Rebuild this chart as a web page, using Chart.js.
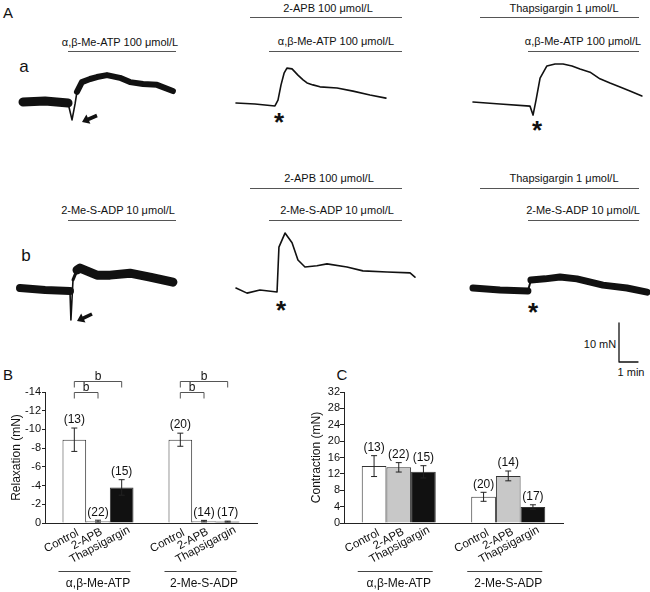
<!DOCTYPE html>
<html lang="en">
<head>
<meta charset="UTF-8">
<title>Relaxation and contraction traces</title>
<style>
  body { margin: 0; background: #fff; font-family: 'Liberation Sans', Arial, sans-serif; color: #111; }
  #fig { position: relative; width: 650px; height: 592px; overflow: hidden; background: #fff; }
  #fig canvas { position: absolute; }
  .lbl { position: absolute; white-space: nowrap; line-height: 1; transform: translate(-50%, -50%); }
  .drug { position: absolute; height: 0; border-top: 1.5px solid #555; }
  .star { position: absolute; font-size: 26px; font-weight: bold; line-height: 1; transform: translate(-50%, -8px); }
  #marks { position: absolute; left: 0; top: 0; }
</style>
</head>
<body>
<div id="fig">
  <svg id="marks" width="650" height="592"></svg>
</div>

<script src="https://cdn.jsdelivr.net/npm/chart.js"></script>
<script>
// ---- traces (time in min, force in mN, relative to the pre-drug baseline)
const a1Time  = [0, 1.16, 2.37, 2.58, 2.74, 2.84, 3.1, 3.53, 3.89, 4.42, 5.1, 5.63, 6.32, 7.05, 7.89];
const a1Force = [0, 0.26, -0.26, -4.6, -0.5, 2.6, 5.1, 5.9, 6.4, 6.9, 6.2, 5.1, 4.6, 4.4, 2.8];

const a2Time  = [0, 1.0, 2.05, 2.21, 2.37, 2.53, 2.68, 2.95, 3.26, 3.53, 3.74, 4.05, 4.42, 5.32, 6.16, 7.05, 7.89];
const a2Force = [0.26, 0, -0.5, 1.0, 4.9, 7.9, 9.2, 9.0, 7.4, 6.2, 5.4, 4.9, 4.4, 4.1, 3.3, 2.3, 1.5];

const a3Time  = [0, 1.42, 3.0, 3.16, 3.32, 3.53, 3.89, 4.32, 4.74, 5.21, 5.63, 6.16, 6.68, 7.21, 7.74, 8.26, 8.89];
const a3Force = [0.26, -0.26, -0.8, -3.1, 0.8, 6.4, 9.5, 10.0, 10.0, 9.5, 8.7, 7.9, 6.2, 5.1, 4.1, 3.1, 1.8];

const b1Time  = [0, 1.32, 2.63, 2.68, 2.79, 3.0, 3.16, 4.05, 4.74, 5.79, 6.84, 8.05];
const b1Force = [0, -0.5, -0.8, -8.2, 2.1, 4.6, 5.1, 3.3, 3.3, 3.8, 2.8, 1.5];

const b2Time  = [0, 0.58, 1.26, 2.16, 2.26, 2.58, 2.95, 3.26, 3.63, 4.26, 4.79, 5.84, 6.68, 7.95, 9.16, 9.42];
const b2Force = [0.5, -0.8, 0, -0.5, 11.0, 14.6, 12.1, 7.7, 5.9, 6.2, 6.7, 5.9, 4.9, 4.6, 4.4, 3.3];

const b3Time  = [0, 1.42, 2.89, 3.05, 3.79, 4.58, 5.47, 6.84, 8.1, 9.16];
const b3Force = [0.26, -0.26, -0.5, 2.3, 2.6, 3.1, 2.6, 1.0, 0.26, -0.8];

const scaleTime  = [0, 0, 1];   // 1 min
const scaleForce = [10, 0, 0];  // 10 mN

// ---- bar charts
const groups = ['α,β-Me-ATP', '2-Me-S-ADP'];
const treatments = ['Control', '2-APB', 'Thapsigargin'];

const relaxControl = [-8.9, -8.9];
const relaxApb     = [-0.2, -0.2];
const relaxThaps   = [-3.8, -0.15];
const relaxControlSem = [1.25, 0.7];
const relaxApbSem     = [0.1, 0.08];
const relaxThapsSem   = [0.83, 0.05];

const contrControl = [13.9, 6.4];
const contrApb     = [13.6, 11.5];
const contrThaps   = [12.5, 3.9];
const contrControlSem = [2.55, 1.1];
const contrApbSem     = [1.15, 1.2];
const contrThapsSem   = [1.5, 0.55];

const nControl = [13, 20];
const nApb     = [22, 14];
const nThaps   = [15, 17];

const FONT = "'Liberation Sans', Arial, sans-serif";
Chart.defaults.font.family = FONT;
Chart.defaults.color = '#111';

const PX_PER_MIN = 19;
const PX_PER_MN = 3.9;
const fig = document.getElementById('fig');

function addCanvas(left, top, w, h) {
  const c = document.createElement('canvas');
  c.width = w; c.height = h;
  c.style.left = left + 'px';
  c.style.top = top + 'px';
  fig.appendChild(c);
  return c;
}

function label(text, cx, cy, size, cls) {
  const d = document.createElement('div');
  d.className = cls || 'lbl';
  d.textContent = text;
  d.style.left = cx + 'px';
  d.style.top = cy + 'px';
  if (size) d.style.fontSize = size + 'px';
  fig.appendChild(d);
}

function drugLine(x1, x2, y) {
  const d = document.createElement('div');
  d.className = 'drug';
  d.style.left = x1 + 'px';
  d.style.top = y + 'px';
  d.style.width = (x2 - x1) + 'px';
  fig.appendChild(d);
}

// width: one number, or one width per segment
function drawTrace(times, forces, p, width) {
  const c = addCanvas(p.left, p.top, p.w, p.h);
  const base = Array.isArray(width) ? width[width.length - 1] : width;
  new Chart(c, {
    type: 'line',
    data: {
      datasets: [{
        data: times.map((t, i) => ({ x: t, y: forces[i] })),
        borderColor: '#111',
        borderWidth: base,
        borderJoinStyle: 'round',
        borderCapStyle: 'round',
        pointRadius: 0,
        tension: 0,
        clip: false,
        segment: {
          borderWidth: ctx => Array.isArray(width) ? width[Math.min(ctx.p0DataIndex, width.length - 1)] : undefined
        }
      }]
    },
    options: {
      responsive: false,
      animation: false,
      events: [],
      layout: { padding: 0 },
      plugins: { legend: { display: false }, tooltip: { enabled: false } },
      scales: {
        x: { type: 'linear', display: false,
             min: (p.left - p.x0) / PX_PER_MIN, max: (p.left + p.w - p.x0) / PX_PER_MIN },
        y: { type: 'linear', display: false,
             min: (p.y0 - p.top - p.h) / PX_PER_MN, max: (p.y0 - p.top) / PX_PER_MN }
      }
    }
  });
}

// panel A
label('A', 8, 12, 15);
label('a', 24, 66, 17);
label('b', 26, 255, 17);

label('α,β-Me-ATP 100 μmol/L', 120, 42, 11);  drugLine(68, 176, 51);
label('2-APB 100 μmol/L', 328, 8, 11);        drugLine(250, 402, 17);
label('α,β-Me-ATP 100 μmol/L', 336, 41, 11);  drugLine(269, 402, 51);
label('Thapsigargin 1 μmol/L', 564, 8, 11);   drugLine(480, 639, 17);
label('α,β-Me-ATP 100 μmol/L', 583, 41, 11);  drugLine(528, 639, 51);

label('2-Me-S-ADP 10 μmol/L', 118, 210, 11);  drugLine(68, 176, 220);
label('2-APB 100 μmol/L', 329, 178, 11);      drugLine(250, 402, 188);
label('2-Me-S-ADP 10 μmol/L', 337, 210, 11);  drugLine(269, 402, 220);
label('Thapsigargin 1 μmol/L', 564, 178, 11); drugLine(480, 639, 188);
label('2-Me-S-ADP 10 μmol/L', 583, 210, 11);  drugLine(528, 639, 220);

label('*', 279, 117, null, 'star');
label('*', 537, 125, null, 'star');
label('*', 281, 305, null, 'star');
label('*', 533, 307, null, 'star');

label('10 mN', 600, 344, 11);
label('1 min', 631, 372, 11);

drawTrace(a1Time, a1Force, { left: 12, top: 58, w: 172, h: 72, x0: 23, y0: 102 }, [9, 9, 1.6, 1.6, 1.6, 6]);
drawTrace(a2Time, a2Force, { left: 230, top: 58, w: 175, h: 58, x0: 236, y0: 104 }, 1.6);
drawTrace(a3Time, a3Force, { left: 466, top: 55, w: 182, h: 62, x0: 473, y0: 103 }, 1.6);
drawTrace(b1Time, b1Force, { left: 12, top: 258, w: 172, h: 70, x0: 20, y0: 288 }, [8, 8, 1.6, 1.6, 3, 9]);
drawTrace(b2Time, b2Force, { left: 230, top: 225, w: 190, h: 75, x0: 236, y0: 290 }, 1.6);
drawTrace(b3Time, b3Force, { left: 466, top: 265, w: 184, h: 40, x0: 473, y0: 289 }, [7, 7, 2, 7]);
drawTrace(scaleTime, scaleForce, { left: 612, top: 318, w: 32, h: 50, x0: 619, y0: 362 }, 1.3);

// arrows pointing at the transient relaxation
function arrow(tx, ty, hx, hy) {
  const dx = hx - tx, dy = hy - ty, L = Math.hypot(dx, dy);
  const ux = dx / L, uy = dy / L, nx = -uy, ny = ux;
  const hl = 7, hw = 5, sw = 1.8;
  const bx = hx - ux * hl, by = hy - uy * hl;
  const pts = [[tx + nx * sw, ty + ny * sw], [bx + nx * sw, by + ny * sw], [bx + nx * hw, by + ny * hw],
               [hx, hy], [bx - nx * hw, by - ny * hw], [bx - nx * sw, by - ny * sw], [tx - nx * sw, ty - ny * sw]];
  const poly = document.createElementNS('http://www.w3.org/2000/svg', 'polygon');
  poly.setAttribute('points', pts.map(p => p[0].toFixed(1) + ',' + p[1].toFixed(1)).join(' '));
  poly.setAttribute('fill', '#111');
  document.getElementById('marks').appendChild(poly);
}
arrow(97, 115.5, 82, 122);
arrow(92, 314, 77, 321);

// ---- bar chart extras: error bars, n, rotated labels, group lines, brackets
const barExtras = {
  id: 'barExtras',
  afterDatasetsDraw(chart, args, opts) {
    const { ctx, chartArea } = chart;
    const y = chart.scales.y;
    ctx.save();
    ctx.strokeStyle = '#222';
    ctx.fillStyle = '#111';
    ctx.lineWidth = 1;
    chart.data.datasets.forEach((ds, i) => {
      const meta = chart.getDatasetMeta(i);
      meta.data.forEach((bar, j) => {
        const v = ds.data[j], e = opts.errors[i][j];
        const p1 = y.getPixelForValue(v - e), p2 = y.getPixelForValue(v + e);
        const top = Math.min(p1, p2), bot = Math.max(p1, p2);
        ctx.strokeStyle = '#222';
        ctx.beginPath();
        ctx.moveTo(bar.x, top); ctx.lineTo(bar.x, bot);
        ctx.moveTo(bar.x - 3, top); ctx.lineTo(bar.x + 3, top);
        ctx.moveTo(bar.x - 3, bot); ctx.lineTo(bar.x + 3, bot);
        ctx.stroke();

        ctx.font = '12px ' + FONT;
        ctx.textAlign = 'center';
        ctx.textBaseline = 'bottom';
        ctx.fillText('(' + opts.counts[i][j] + ')', bar.x, top - 2);

        ctx.save();
        ctx.font = '11.5px ' + FONT;
        ctx.translate(bar.x + opts.labelDx[i], chartArea.bottom + opts.labelDy[i]);
        ctx.rotate(-28 * Math.PI / 180);
        ctx.textAlign = 'right';
        ctx.textBaseline = 'alphabetic';
        ctx.fillText(ds.label, 0, 0);
        ctx.restore();
      });
    });

    // group underlines
    const first = chart.getDatasetMeta(0).data, last = chart.getDatasetMeta(2).data;
    ctx.strokeStyle = '#444';
    ctx.beginPath();
    first.forEach((bar, j) => {
      const x1 = bar.x - bar.width / 2 - 4, x2 = last[j].x + last[j].width / 2 - 3;
      ctx.moveTo(x1, chartArea.bottom + 48.5);
      ctx.lineTo(x2, chartArea.bottom + 48.5);
    });
    ctx.stroke();

    // significance brackets
    if (opts.brackets) {
      const mid = chart.getDatasetMeta(1).data;
      ctx.strokeStyle = '#555';
      ctx.font = '12px ' + FONT;
      ctx.textAlign = 'center';
      ctx.textBaseline = 'alphabetic';
      first.forEach((bar, j) => {
        const rows = [[last[j].x, chartArea.top - 10.5], [mid[j].x, chartArea.top + 0.5]];
        rows.forEach(([xe, yy]) => {
          ctx.beginPath();
          ctx.moveTo(bar.x, yy + 6); ctx.lineTo(bar.x, yy);
          ctx.lineTo(xe, yy); ctx.lineTo(xe, yy + 6);
          ctx.stroke();
          ctx.fillText('b', (bar.x + xe) / 2, yy - 2);
        });
      });
    }
    ctx.restore();
  }
};

function barChart(canvas, series, sems, yOpts, extra) {
  const colors = ['#ffffff', '#c8c8c8', '#111111'];
  new Chart(canvas, {
    type: 'bar',
    data: {
      labels: groups,
      datasets: treatments.map((t, i) => ({
        label: t,
        data: series[i],
        backgroundColor: colors[i],
        borderColor: '#333',
        borderWidth: 1,
        barPercentage: 1,
        categoryPercentage: extra.catPct
      }))
    },
    options: {
      responsive: false,
      animation: false,
      events: [],
      layout: { padding: extra.padding },
      plugins: {
        legend: { display: false },
        tooltip: { enabled: false },
        barExtras: {
          errors: sems,
          counts: [nControl, nApb, nThaps],
          labelDx: extra.labelDx,
          labelDy: [12, 11, 9],
          brackets: extra.brackets
        }
      },
      scales: {
        x: {
          grid: { display: false },
          border: { color: '#222', width: 1 },
          ticks: { font: { size: 12 }, color: '#111', padding: 45, maxRotation: 0 },
          afterFit: s => { s.height = extra.xHeight; }
        },
        y: Object.assign({
          grid: { drawOnChartArea: false, tickLength: yOpts.tickLength, color: '#222' },
          border: { color: '#222', width: 1 },
          afterFit: s => { s.width = extra.yWidth; }
        }, yOpts.scale)
      }
    },
    plugins: [barExtras]
  });
}

// panel B
label('B', 8, 374, 15);
barChart(addCanvas(0, 360, 330, 232),
  [relaxControl, relaxApb, relaxThaps],
  [relaxControlSem, relaxApbSem, relaxThapsSem],
  { tickLength: 3, scale: {
      min: -14, max: 0, reverse: true,
      ticks: { stepSize: 2, font: { size: 11 }, color: '#111', padding: 1 },
      title: { display: true, text: 'Relaxation (mN)', font: { size: 12 }, color: '#111', padding: { top: 9, bottom: 0 } }
  } },
  { padding: { top: 32, right: 73, left: 0, bottom: 0 }, xHeight: 69, yWidth: 45,
    catPct: 0.67, labelDx: [5, 5, 9], brackets: true });

// panel C
label('C', 342, 374, 15);
barChart(addCanvas(300, 360, 350, 232),
  [contrControl, contrApb, contrThaps],
  [contrControlSem, contrApbSem, contrThapsSem],
  { tickLength: 4, scale: {
      min: 0, max: 32,
      ticks: { stepSize: 4, font: { size: 11 }, color: '#111', padding: 0 },
      title: { display: true, text: 'Contraction (mN)', font: { size: 12 }, color: '#111', padding: { top: 9, bottom: 0 } }
  } },
  { padding: { top: 32, right: 87, left: 0, bottom: 0 }, xHeight: 69, yWidth: 44,
    catPct: 0.676, labelDx: [6, 6, 7], brackets: false });
</script>
</body>
</html>
